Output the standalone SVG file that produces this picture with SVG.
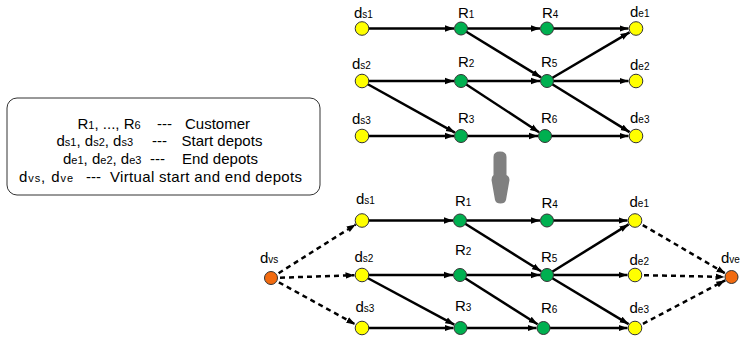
<svg xmlns="http://www.w3.org/2000/svg" width="747" height="338" viewBox="0 0 747 338">
<defs>
<marker id="ah" markerUnits="userSpaceOnUse" markerWidth="10" markerHeight="8" refX="9" refY="4" orient="auto">
<path d="M0,0.8 L9,4 L0,7.2 z" fill="#000"/>
</marker>
<style>
text{font-family:"Liberation Sans",Arial,sans-serif;fill:#000}
.lbl{font-size:15px}
.sub{font-size:10px}
.lg{font-size:15px}
.lsub{font-size:11px}
.e{stroke:#000;stroke-width:2.5;fill:none;marker-end:url(#ah)}
.d{stroke-dasharray:5,4}
.y{fill:#ffff00;stroke:#333;stroke-width:1}
.g{fill:#00b050;stroke:#333;stroke-width:1}
.o{fill:#f26b10;stroke:#333;stroke-width:1}
</style>
</defs>
<rect width="747" height="338" fill="#fff"/>

<g id="legend">
<rect x="7" y="98" width="313" height="97" rx="10" ry="10" fill="#fff" stroke="#333" stroke-width="1"/>
<text class="lg" x="77.5" y="128.5">R<tspan class="lsub">1</tspan>, ..., R<tspan class="lsub">6</tspan></text>
<text class="lg" x="157" y="128.5">---</text>
<text class="lg" x="185" y="128.5">Customer</text>
<text class="lg" x="56.5" y="146">d<tspan class="lsub">s1</tspan>, d<tspan class="lsub">s2</tspan>, d<tspan class="lsub">s3</tspan></text>
<text class="lg" x="152" y="146">---</text>
<text class="lg" x="181.5" y="146">Start depots</text>
<text class="lg" x="63" y="164">d<tspan class="lsub">e1</tspan>, d<tspan class="lsub">e2</tspan>, d<tspan class="lsub">e3</tspan></text>
<text class="lg" x="150" y="164">---</text>
<text class="lg" x="182" y="164">End depots</text>
<text class="lg" x="19" y="182" textLength="54">d<tspan class="lsub">vs</tspan>, d<tspan class="lsub">ve</tspan></text>
<text class="lg" x="86" y="182">---</text>
<text class="lg" x="110" y="182" textLength="192">Virtual start and end depots</text>
</g>

<g id="transform-arrow">
<path d="M493.5,157 Q493.5,151.5 500,151.5 Q506.5,151.5 506.5,157 L506.5,175 Q509.5,176.5 509.5,180 L506,200 Q505,203.5 500.5,203.5 Q496,203.5 495,200 L491.5,180 Q491.5,176.5 493.5,175 Z" fill="#808080"/>
</g>

<g id="connectors">
<!-- top graph -->
<line class="e" x1="362" y1="28.5" x2="454" y2="28.5"/>
<line class="e" x1="461" y1="28.5" x2="540" y2="28.5"/>
<line class="e" x1="547" y1="28.5" x2="628.5" y2="28.5"/>
<line class="e" x1="461" y1="28.5" x2="541" y2="77.4"/>
<line class="e" x1="362" y1="81" x2="454" y2="81"/>
<line class="e" x1="461" y1="81" x2="540" y2="81"/>
<line class="e" x1="547" y1="81" x2="628.5" y2="81"/>
<line class="e" x1="362" y1="81" x2="454.9" y2="132.6"/>
<line class="e" x1="461" y1="81" x2="539.1" y2="132.2"/>
<line class="e" x1="547" y1="81" x2="629.5" y2="32.3"/>
<line class="e" x1="547" y1="81" x2="629.6" y2="132.1"/>
<line class="e" x1="362" y1="136" x2="454" y2="136"/>
<line class="e" x1="461" y1="136" x2="538" y2="136"/>
<line class="e" x1="545" y1="136" x2="628.5" y2="136"/>
<!-- bottom graph -->
<line class="e" x1="362" y1="220.5" x2="453" y2="220.5"/>
<line class="e" x1="460" y1="220.5" x2="540" y2="220.5"/>
<line class="e" x1="547" y1="220.5" x2="627.5" y2="220.5"/>
<line class="e" x1="460" y1="220.5" x2="541.1" y2="271.3"/>
<line class="e" x1="362" y1="275" x2="453" y2="275"/>
<line class="e" x1="460" y1="275" x2="540" y2="275"/>
<line class="e" x1="547" y1="275" x2="627.5" y2="275"/>
<line class="e" x1="362" y1="275" x2="454.3" y2="324.7"/>
<line class="e" x1="460" y1="275" x2="537.6" y2="324.2"/>
<line class="e" x1="547" y1="275" x2="628.6" y2="224.4"/>
<line class="e" x1="547" y1="275" x2="628.6" y2="324.1"/>
<line class="e" x1="362" y1="328" x2="453.5" y2="328"/>
<line class="e" x1="460.5" y1="328" x2="536.5" y2="328"/>
<line class="e" x1="543.5" y1="328" x2="627.5" y2="328"/>
<!-- virtual depots -->
<line class="e d" x1="271" y1="278" x2="355.7" y2="224.5"/>
<line class="e d" x1="271" y1="278" x2="354.5" y2="275.2"/>
<line class="e d" x1="271" y1="278" x2="355.4" y2="324.4"/>
<line class="e d" x1="635" y1="220.5" x2="725.5" y2="273.5"/>
<line class="e d" x1="635" y1="275" x2="724.5" y2="276.9"/>
<line class="e d" x1="635" y1="328" x2="725.3" y2="280.3"/>
</g>

<!-- top graph nodes -->
<g id="t-ds1"><circle class="y" cx="362" cy="28.5" r="6.8"/><text class="lbl" x="354" y="18">d<tspan class="sub">s1</tspan></text></g>
<g id="t-ds2"><circle class="y" cx="362" cy="81" r="6.8"/><text class="lbl" x="352" y="69">d<tspan class="sub">s2</tspan></text></g>
<g id="t-ds3"><circle class="y" cx="362" cy="136" r="6.8"/><text class="lbl" x="352" y="124">d<tspan class="sub">s3</tspan></text></g>
<g id="t-R1"><circle class="g" cx="461" cy="28.5" r="6.5"/><text class="lbl" x="458" y="17.5">R<tspan class="sub">1</tspan></text></g>
<g id="t-R2"><circle class="g" cx="461" cy="81" r="6.5"/><text class="lbl" x="458" y="67">R<tspan class="sub">2</tspan></text></g>
<g id="t-R3"><circle class="g" cx="461" cy="136" r="6.5"/><text class="lbl" x="458" y="123">R<tspan class="sub">3</tspan></text></g>
<g id="t-R4"><circle class="g" cx="547" cy="28.5" r="6.5"/><text class="lbl" x="542" y="17.5">R<tspan class="sub">4</tspan></text></g>
<g id="t-R5"><circle class="g" cx="547" cy="81" r="6.5"/><text class="lbl" x="541" y="67">R<tspan class="sub">5</tspan></text></g>
<g id="t-R6"><circle class="g" cx="545" cy="136" r="6.5"/><text class="lbl" x="541" y="123">R<tspan class="sub">6</tspan></text></g>
<g id="t-de1"><circle class="y" cx="636" cy="28.5" r="6.8"/><text class="lbl" x="630" y="16.5">d<tspan class="sub">e1</tspan></text></g>
<g id="t-de2"><circle class="y" cx="636" cy="81" r="6.8"/><text class="lbl" x="630" y="70">d<tspan class="sub">e2</tspan></text></g>
<g id="t-de3"><circle class="y" cx="636" cy="136" r="6.8"/><text class="lbl" x="630" y="122.5">d<tspan class="sub">e3</tspan></text></g>

<!-- bottom graph nodes -->
<g id="b-dvs"><circle class="o" cx="271" cy="278" r="6.5"/><text class="lbl" x="260" y="263">d<tspan class="sub">vs</tspan></text></g>
<g id="b-ds1"><circle class="y" cx="362" cy="220.5" r="6.8"/><text class="lbl" x="356" y="204">d<tspan class="sub">s1</tspan></text></g>
<g id="b-ds2"><circle class="y" cx="362" cy="275" r="6.8"/><text class="lbl" x="354.5" y="261.5">d<tspan class="sub">s2</tspan></text></g>
<g id="b-ds3"><circle class="y" cx="362" cy="328" r="6.8"/><text class="lbl" x="355.5" y="311.5">d<tspan class="sub">s3</tspan></text></g>
<g id="b-R1"><circle class="g" cx="460" cy="220.5" r="6.5"/><text class="lbl" x="455" y="206">R<tspan class="sub">1</tspan></text></g>
<g id="b-R2"><circle class="g" cx="460" cy="275" r="6.5"/><text class="lbl" x="455" y="255">R<tspan class="sub">2</tspan></text></g>
<g id="b-R3"><circle class="g" cx="460.5" cy="328" r="6.5"/><text class="lbl" x="455" y="311">R<tspan class="sub">3</tspan></text></g>
<g id="b-R4"><circle class="g" cx="547" cy="220.5" r="6.5"/><text class="lbl" x="541.5" y="207.5">R<tspan class="sub">4</tspan></text></g>
<g id="b-R5"><circle class="g" cx="547" cy="275" r="6.5"/><text class="lbl" x="541" y="261.5">R<tspan class="sub">5</tspan></text></g>
<g id="b-R6"><circle class="g" cx="543.5" cy="328" r="6.5"/><text class="lbl" x="541" y="313">R<tspan class="sub">6</tspan></text></g>
<g id="b-de1"><circle class="y" cx="635" cy="220.5" r="6.8"/><text class="lbl" x="629.5" y="206.5">d<tspan class="sub">e1</tspan></text></g>
<g id="b-de2"><circle class="y" cx="635" cy="275" r="6.8"/><text class="lbl" x="629.5" y="265">d<tspan class="sub">e2</tspan></text></g>
<g id="b-de3"><circle class="y" cx="635" cy="328" r="6.8"/><text class="lbl" x="629.5" y="312.5">d<tspan class="sub">e3</tspan></text></g>
<g id="b-dve"><circle class="o" cx="731.5" cy="277" r="6.5"/><text class="lbl" x="721" y="262.5">d<tspan class="sub">ve</tspan></text></g>
</svg>
